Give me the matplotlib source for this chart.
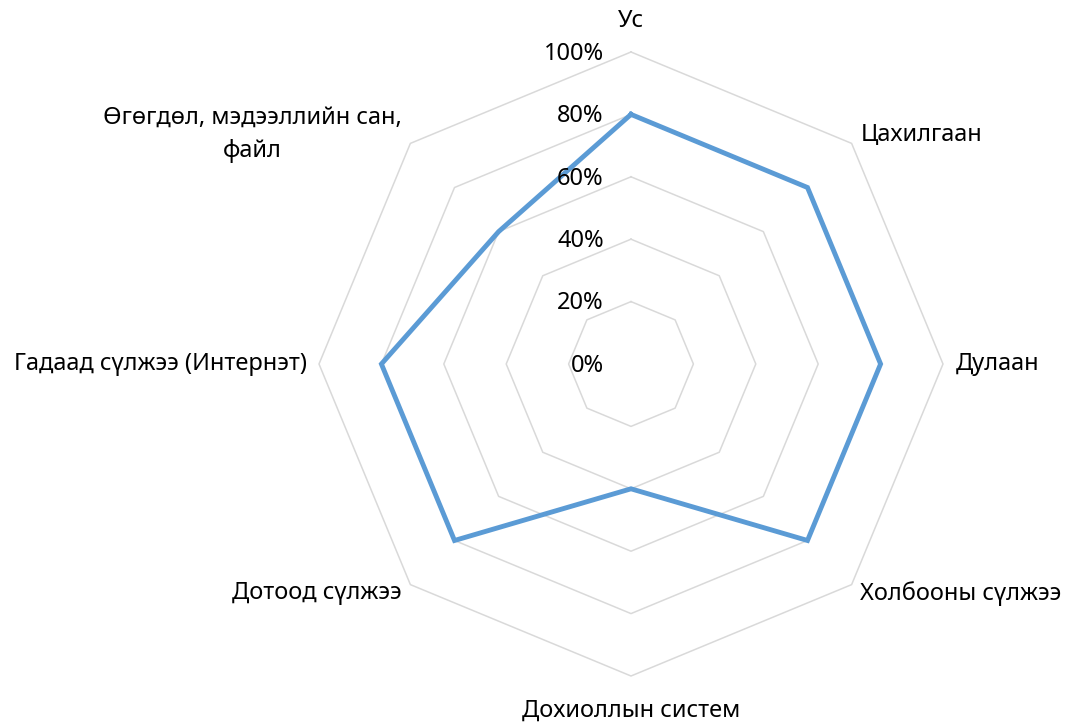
import numpy as np
import matplotlib
matplotlib.use('Agg')
import matplotlib.pyplot as plt

plt.rcParams['font.family'] = ['Noto Sans', 'DejaVu Sans']

#==============================================================
# data
categories = ['Ус', 'Цахилгаан', 'Дулаан', 'Холбооны сүлжээ', 'Дохиоллын систем',
              'Дотоод сүлжээ', 'Гадаад сүлжээ (Интернэт)', 'Өгөгдөл, мэдээллийн сан,\nфайл']
values = [0.80, 0.80, 0.80, 0.80, 0.40, 0.80, 0.80, 0.60]
rings = [0.2, 0.4, 0.6, 0.8, 1.0]
tickLabels = ['0%', '20%', '40%', '60%', '80%', '100%']
tickVals = [0.0, 0.2, 0.4, 0.6, 0.8, 1.0]
#==============================================================

W, H = 1070, 723
cx, cy, R = 631, 364, 312.0

fig = plt.figure(figsize=(W/100, H/100), dpi=100)
ax = fig.add_axes([0, 0, 1, 1])
ax.set_xlim(-cx/R, (W-cx)/R)
ax.set_ylim(-(H-cy)/R, cy/R)
ax.axis('off')

n = len(categories)
ang = np.arange(n) * 2*np.pi/n
sx, sy = np.sin(ang), np.cos(ang)

# octagon grid
for r in rings:
    ax.plot(np.append(r*sx, r*sx[0]), np.append(r*sy, r*sy[0]),
            color='#D9D9D9', lw=1.1, zorder=1)

# series
v = np.array(values)
ax.plot(np.append(v*sx, v[0]*sx[0]), np.append(v*sy, v[0]*sy[0]),
        color='#5B9BD5', lw=3.5, solid_joinstyle='miter', zorder=3)

# value ticks
for tv, tl in zip(tickVals, tickLabels):
    ax.text(-0.087, tv - 0.006, tl, ha='right', va='center', fontsize=17, color='#000000', zorder=4)

# category labels
lpos = [(1.10, 'center', 'center'), (1.04, 'left', 'center'), (1.04, 'left', 'center'),
        (1.04, 'left', 'center'), (1.11, 'center', 'center'), (1.04, 'right', 'center'),
        (1.04, 'right', 'center'), (1.04, 'right', 'center')]
for i, lab in enumerate(categories):
    rr, ha, va = lpos[i]
    ax.text(rr*sx[i], rr*sy[i], lab, ha=ha, va=va, ma='center', fontsize=17,
            color='#000000', linespacing=1.5)

plt.savefig('out.png', dpi=100)
